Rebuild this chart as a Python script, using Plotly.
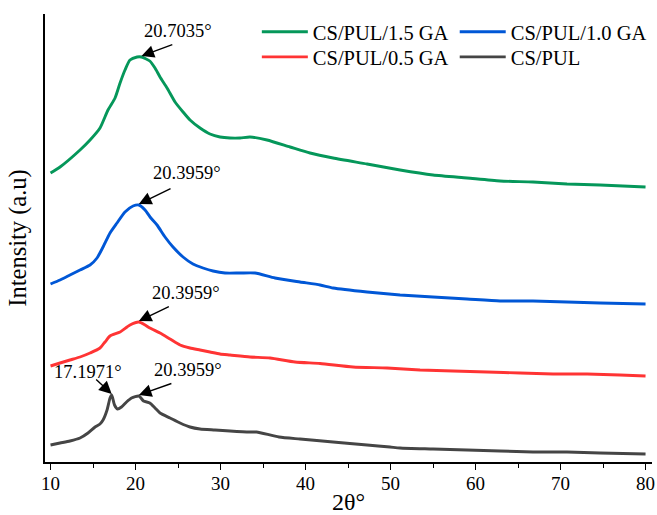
import plotly.graph_objects as go

# XRD patterns (2θ in degrees, intensity in a.u., curves vertically offset)
two_theta_15 = [10.0, 11.12, 13.47, 14.65, 15.82, 16.76, 17.59, 18.18, 18.76, 19.35, 20.18, 20.7035,
                21.68, 22.29, 22.88, 23.71, 24.65, 25.59, 26.41, 27.59, 28.76, 29.94, 31.12, 32.29,
                33.47, 35.47, 38.18, 40.53, 43.24, 47.24, 51.12, 55.0, 59.0, 62.88, 66.76, 70.76,
                74.65, 80.0]
int_15 = [289, 295, 312, 322, 334, 352, 364, 379, 392, 402, 405, 405,
          401, 394, 385, 374, 360, 350, 342, 334, 328, 325, 324, 324,
          325, 322, 315, 309, 304, 298, 292, 287, 284, 281, 280, 278,
          277, 275]

two_theta_10 = [10.0, 11.12, 12.29, 13.47, 14.65, 15.47, 16.18, 17.0, 17.82, 18.76, 19.71, 20.3959,
                21.12, 21.71, 22.53, 23.47, 24.41, 25.59, 26.76, 27.94, 29.12, 30.53, 32.29, 34.06,
                36.41, 39.35, 41.71, 43.24, 47.24, 51.12, 55.0, 59.0, 62.88, 66.76, 70.76, 74.65, 80.0]
int_10 = [178, 182, 187, 192, 197, 204, 215, 229, 239, 250, 256, 257,
          252, 245, 237, 225, 215, 205, 198, 194, 191, 189, 189, 189,
          184, 180, 177, 174, 170, 167, 165, 163, 161, 161, 160, 159, 158]

two_theta_05 = [10.0, 11.12, 12.29, 13.47, 14.65, 15.82, 16.41, 17.0, 18.18, 19.35, 20.3959, 21.12,
                21.68, 22.88, 24.06, 25.24, 26.41, 27.59, 28.76, 29.94, 31.12, 33.47, 35.82, 38.76,
                41.71, 45.59, 49.59, 53.47, 57.35, 61.35, 65.24, 69.12, 73.12, 77.0, 80.0]
int_05 = [96, 99, 102, 105, 109, 114, 120, 126, 130, 137, 140, 137,
          134, 129, 123, 117, 114, 112, 110, 108, 107, 105, 104, 100,
          98.5, 95, 94, 92, 91, 90, 89, 88, 88, 87, 86]

two_theta_00 = [10.0, 11.12, 12.29, 13.47, 14.41, 15.24, 15.82, 16.18, 16.65, 17.0, 17.1971, 17.53,
                17.88, 18.35, 18.94, 19.53, 20.3959, 20.94, 21.68, 22.29, 22.88, 24.06, 25.24, 26.41,
                27.59, 29.35, 31.12, 33.47, 34.24, 36.88, 39.35, 43.24, 47.24, 49.94, 51.12, 55.0,
                59.0, 62.88, 66.76, 70.76, 74.65, 80.0]
int_00 = [17, 19, 21, 24, 29, 35, 38, 42, 52, 64, 67, 57,
          53, 55, 60, 64, 66, 61, 59, 54, 49, 44, 39, 35,
          33, 32, 31, 30, 30, 25, 23, 20, 17, 15, 14, 13,
          12, 11, 10, 10, 9, 8]

series_names = ["CS/PUL/1.5 GA", "CS/PUL/1.0 GA", "CS/PUL/0.5 GA", "CS/PUL"]
series_colors = ["#05975A", "#0057D6", "#FF3434", "#454545"]

# peak labels: (2θ, curve index, text)
peak_labels = [(20.7035, 0, "20.7035°"), (20.3959, 1, "20.3959°"), (20.3959, 2, "20.3959°"),
               (20.3959, 3, "20.3959°"), (17.1971, 3, "17.1971°")]

FONT = "Liberation Serif"
xs = [two_theta_15, two_theta_10, two_theta_05, two_theta_00]
ys = [int_15, int_10, int_05, int_00]

# one legend box per entry, arranged as a 2 x 2 grid
legend_ids = ["legend", "legend2", "legend3", "legend4"]
legend_pos = [(0.349, 0.960), (0.675, 0.960), (0.349, 0.904), (0.675, 0.904)]

fig = go.Figure()
for x, y, name, color, lid in zip(xs, ys, series_names, series_colors, legend_ids):
    fig.add_trace(go.Scatter(x=x, y=y, mode="lines", name=name, legend=lid,
                             line=dict(color=color, width=2.9, shape="spline", smoothing=0.6)))

# arrow tail offsets (data units) and label offsets relative to the arrow head
arrow_offsets = [(3.8, 12, 4.3, 25), (3.9, 16, 5.7, 31), (3.7, 15, 5.5, 28),
                 (4.0, 12, 5.8, 25), (-2.0, 16, -2.8, 22)]
for (pos, idx, text), (dx, dy, tx, ty) in zip(peak_labels, arrow_offsets):
    yv = ys[idx][xs[idx].index(pos)]
    hy = yv + 1
    fig.add_annotation(x=pos, y=hy, ax=pos + dx, ay=hy + dy, axref="x", ayref="y",
                       text="", showarrow=True, arrowhead=2, arrowsize=1.8,
                       arrowwidth=1.4, arrowcolor="black", standoff=0)
    fig.add_annotation(x=pos + tx, y=hy + ty, text=text, showarrow=False,
                       font=dict(family=FONT, size=18.5, color="black"),
                       xanchor="center", yanchor="middle")

legend_style = dict(orientation="v", xanchor="left", yanchor="middle", itemwidth=46,
                    font=dict(family=FONT, size=20.5, color="black"),
                    bgcolor="rgba(0,0,0,0)", borderwidth=0)
legends = {lid: dict(x=px, y=py, **legend_style) for lid, (px, py) in zip(legend_ids, legend_pos)}

fig.update_layout(
    width=657, height=515,
    margin=dict(l=45, r=5, t=14, b=53),
    paper_bgcolor="white", plot_bgcolor="white",
    font=dict(family=FONT, color="black"),
    showlegend=True,
    **legends,
    xaxis=dict(range=[9.35, 80.76], tick0=10, dtick=10, ticks="outside", ticklen=6,
               tickwidth=1.3, tickcolor="black", showline=True, linecolor="black",
               linewidth=1.6, showgrid=False, zeroline=False, ticklabelstandoff=-3,
               automargin=False,
               tickfont=dict(family=FONT, size=19, color="black"),
               minor=dict(dtick=5, tick0=10, ticks="outside", ticklen=4, tickcolor="black",
                          tickwidth=1.2, showgrid=False),
               title=dict(text="2θ°", font=dict(family=FONT, size=24, color="black"),
                          standoff=8)),
    yaxis=dict(range=[0, 448], showticklabels=False, ticks="", showline=True,
               linecolor="black", linewidth=1.8, showgrid=False, zeroline=False,
               automargin=False,
               title=dict(text="Intensity (a.u)", font=dict(family=FONT, size=24.5, color="black"),
                          standoff=10)),
)

fig.write_html("out.html")
